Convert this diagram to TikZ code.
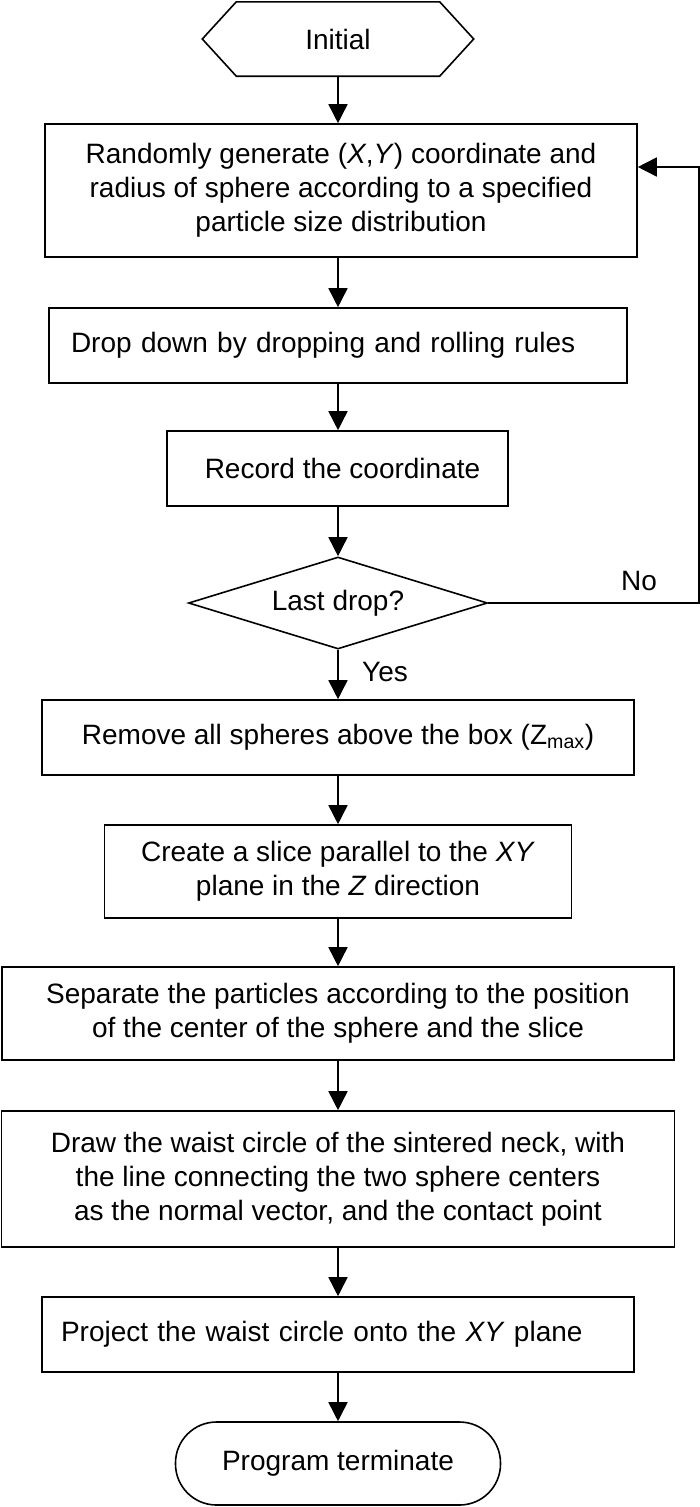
\documentclass[tikz,border=0pt]{standalone}
\usepackage{fontspec}
\setmainfont{Liberation Sans}
\usetikzlibrary{arrows.meta,shapes.geometric,calc}
\begin{document}
\begin{tikzpicture}[x=1pt,y=-1pt,
  every node/.style={font=\fontsize{28}{34}\selectfont, inner sep=0pt},
  box/.style={draw, line width=1.6pt, rectangle, align=center},
  lbox/.style={draw, line width=1.6pt, rectangle, align=left},
  arr/.style={line width=1.6pt, -{Triangle[length=19pt,width=19pt]}},
  lbl/.style={}
]
\useasboundingbox (0,0) rectangle (700,1507);

\node (init) at (338,39) [minimum width=203pt, minimum height=74pt] {Initial};
\draw[line width=1.6pt] (init.north west) -- (init.north east) -- ($(init.east)+(34,0)$)
  -- (init.south east) -- (init.south west) -- ($(init.west)+(-34,0)$) -- cycle;

\node (b1) at (341,190.5) [box, minimum width=592pt, minimum height=133pt]
  {Randomly generate (\textit{X},\textit{Y}) coordinate and\\radius of sphere according to a specified\\particle size distribution};

\node (b2) at (338,345.5) [lbox, text width=534pt, inner xsep=22pt, minimum height=75pt]
  {Drop down by dropping and rolling rules};

\node (b3) at (337.5,468.5) [box, minimum width=341pt, minimum height=75pt]
  {\hspace*{10pt}Record the coordinate};

\node (dia) at (338,603) [draw, line width=1.6pt, diamond, aspect=3.25, minimum width=299pt, minimum height=92pt]
  {Last drop?};

\node (b4) at (338,737.5) [box, minimum width=592pt, minimum height=75pt]
  {Remove all spheres above the box (Z\textsubscript{max})};

\node (b5) at (338,871.5) [box, minimum width=467pt, minimum height=93pt]
  {Create a slice parallel to the \textit{XY}\\plane in the \textit{Z} direction};

\node (b6) at (338,1013.5) [box, minimum width=672pt, minimum height=93pt]
  {Separate the particles according to the position\\of the center of the sphere and the slice};

\node (b7) at (338,1179) [box, minimum width=673pt, minimum height=136pt]
  {Draw the waist circle of the sintered neck, with\\the line connecting the two sphere centers\\as the normal vector, and the contact point};

\node (b8) at (338,1334.5) [lbox, text width=554pt, inner xsep=19pt, minimum height=75pt]
  {Project the waist circle onto the \textit{XY} plane};

\node (end) at (338,1463.5) [draw, line width=1.6pt, rectangle, rounded corners=41pt, minimum width=325pt, minimum height=83pt]
  {Program terminate};

\node (no) at (639,581) {No};
\node (yes) at (385,672) {Yes};

\coordinate (fb) at (699,167);

\draw[arr] (init.south) -- (init.south |- b1.north);
\draw[arr] (init.south |- b1.south) -- (b2.north);
\draw[arr] (b2.south) -- (b2.south |- b3.north);
\draw[arr] (b2.south |- b3.south) -- (dia.north);
\draw[arr] (dia.south) -- (b4.north);
\draw[arr] (b4.south) -- (b5.north);
\draw[arr] (b5.south) -- (b6.north);
\draw[arr] (b6.south) -- (b7.north);
\draw[arr] (b7.south) -- (b8.north);
\draw[arr] (b8.south) -- (end.north);
\draw[arr] (dia.east) -| (fb) -- (fb -| b1.east);
\end{tikzpicture}
\end{document}
